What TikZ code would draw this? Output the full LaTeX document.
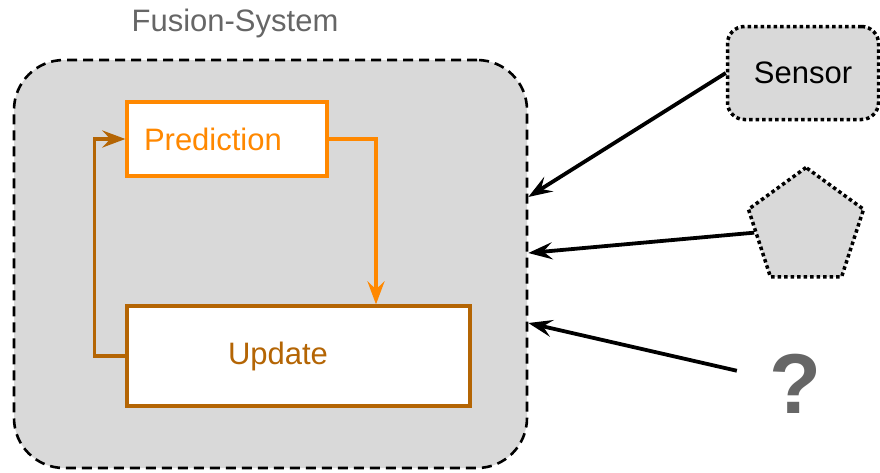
\documentclass[tikz,border=0pt]{standalone}
\usepackage{fontspec}
\setmainfont{Liberation Sans}
\usetikzlibrary{arrows.meta,shapes.geometric}
\definecolor{panelgray}{HTML}{D9D9D9}
\definecolor{textgray}{HTML}{666666}
\definecolor{predorange}{HTML}{FF8800}
\definecolor{updbrown}{HTML}{B46504}
\tikzset{
  bigtext/.style={font=\fontsize{31}{36}\selectfont},
  systembox/.style={draw=black, fill=panelgray, line width=2.6pt,
    dash pattern=on 10pt off 6pt, rounded corners=50pt},
  sourcebox/.style={draw=black, fill=panelgray, line width=3.5pt,
    dash pattern=on 3.5pt off 3pt},
  stagebox/.style={draw, fill=white, line width=3.3pt, bigtext, align=left},
  flowarrow/.style={line width=3.6pt,
    -{Stealth[length=23pt,width=17pt,inset=8pt]}},
  inarrow/.style={draw=black, line width=3.8pt,
    -{Stealth[length=24pt,width=17pt,inset=9pt]}}
}
\begin{document}
\begin{tikzpicture}[x=1pt,y=-1pt]
  \useasboundingbox (0,0) rectangle (880,472);

  % fusion system container and its title
  \node[systembox, minimum width=513pt, minimum height=408pt] (fusion) at (270.5,264) {};
  \node[bigtext, text=textgray] (title) at (235,23) {Fusion-System};

  % filter stages
  \node[stagebox, draw=predorange, text=predorange,
        minimum height=74pt, inner xsep=17pt, text width=166pt] (pred) at (227,139) {Prediction};
  \node[stagebox, draw=updbrown, text=updbrown,
        minimum height=100pt, inner xsep=101pt, text width=141pt] (upd) at (298.5,356) {Update};

  % prediction feeds the update, the update feeds back to the prediction
  \draw[flowarrow, predorange] (pred.east) -| ([xshift=77.5pt]upd.north);
  \draw[flowarrow, updbrown] (upd.west) -- ++(-31,0) |- (pred.west);

  % external sources
  \node[sourcebox, rounded corners=17pt, minimum width=151pt, minimum height=93pt,
        bigtext] (sensor) at (803,73) {Sensor};
  \node[sourcebox, regular polygon, regular polygon sides=5, minimum size=121pt,
        inner sep=0pt] (pent) at (806,228) {};
  \node[text=textgray, font=\fontsize{85}{100}\selectfont\bfseries,
        inner xsep=32pt, inner ysep=2pt] (quest) at (795,384) {?};

  % entry points on the container border
  \coordinate (inA) at (fusion.east |- 0,197);
  \coordinate (inB) at (fusion.east |- 0,253);
  \coordinate (inC) at (fusion.east |- 0,323);

  \draw[inarrow] (sensor.west) -- (inA);
  \draw[inarrow] (pent) -- (inB);
  \draw[inarrow] (quest) -- (inC);
\end{tikzpicture}
\end{document}
